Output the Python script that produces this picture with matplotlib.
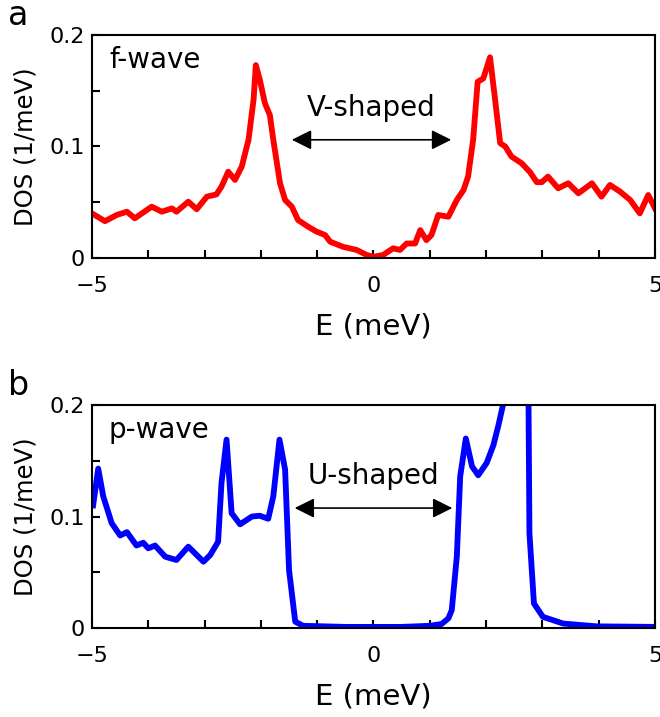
import numpy as np
import matplotlib
matplotlib.use('Agg')
import matplotlib.pyplot as plt
from matplotlib.ticker import MultipleLocator

# f-wave DOS (panel a)
e_f = [-5.0, -4.77, -4.56, -4.38, -4.24, -3.94, -3.76, -3.58, -3.50, -3.29,
       -3.14, -2.96, -2.79, -2.70, -2.58, -2.46, -2.34, -2.22, -2.13, -2.09,
       -2.02, -1.93, -1.84, -1.78, -1.66, -1.57, -1.45, -1.34, -1.16, -1.01,
       -0.86, -0.77, -0.54, -0.30, -0.12, 0.0, 0.17, 0.35, 0.47, 0.59,
       0.74, 0.83, 0.94, 1.03, 1.15, 1.33, 1.48, 1.60, 1.68, 1.77,
       1.85, 1.95, 2.07, 2.16, 2.25, 2.34, 2.45, 2.63, 2.78, 2.90,
       2.99, 3.10, 3.28, 3.46, 3.64, 3.88, 4.05, 4.20, 4.38, 4.56,
       4.73, 4.88, 5.0]
dos_f = [0.040, 0.033, 0.0386, 0.0415, 0.0356, 0.046, 0.0415, 0.0445, 0.0415, 0.0505,
         0.0437, 0.055, 0.057, 0.064, 0.0774, 0.070, 0.082, 0.106, 0.142, 0.173,
         0.160, 0.139, 0.128, 0.106, 0.067, 0.052, 0.046, 0.034, 0.028, 0.0236,
         0.0206, 0.0146, 0.010, 0.0072, 0.0027, 0.001, 0.0027, 0.0087, 0.0072, 0.013,
         0.013, 0.025, 0.016, 0.0206, 0.0386, 0.037, 0.052, 0.061, 0.073, 0.106,
         0.158, 0.161, 0.180, 0.142, 0.103, 0.100, 0.091, 0.085, 0.077, 0.068,
         0.068, 0.073, 0.0625, 0.067, 0.058, 0.067, 0.055, 0.0655, 0.0595, 0.052,
         0.040, 0.0565, 0.0445]

# p-wave DOS (panel b)
e_p = [-4.98, -4.89, -4.80, -4.65, -4.50, -4.38, -4.21, -4.09, -4.0, -3.88,
       -3.70, -3.50, -3.29, -3.02, -2.90, -2.76, -2.70, -2.61, -2.52, -2.37,
       -2.16, -2.02, -1.87, -1.78, -1.67, -1.57, -1.50, -1.39, -1.25, -0.5,
       0.0, 0.5, 1.0, 1.21, 1.33, 1.39, 1.48, 1.54, 1.64, 1.75,
       1.86, 2.01, 2.13, 2.22, 2.30, 2.45, 2.60, 2.74, 2.77, 2.85,
       3.01, 3.37, 3.96, 5.0]
dos_p = [0.110, 0.143, 0.118, 0.094, 0.083, 0.086, 0.074, 0.0765, 0.0715, 0.074,
         0.064, 0.061, 0.073, 0.0595, 0.0655, 0.0774, 0.130, 0.169, 0.103, 0.093,
         0.100, 0.1007, 0.098, 0.118, 0.169, 0.142, 0.052, 0.0057, 0.002, 0.001,
         0.001, 0.001, 0.002, 0.0036, 0.0087, 0.016, 0.064, 0.136, 0.170, 0.145,
         0.137, 0.148, 0.164, 0.182, 0.20, 0.25, 0.30, 0.30, 0.085, 0.022,
         0.010, 0.004, 0.0015, 0.001]

panels = [
    dict(letter='a', e=e_f, dos=dos_f, color='#ff0000', label='f-wave',
         shape='V-shaped', arrow=(-1.45, 1.38), arrow_y=0.106, bottom=0.6402),
    dict(letter='b', e=e_p, dos=dos_p, color='#0000ff', label='p-wave',
         shape='U-shaped', arrow=(-1.40, 1.40), arrow_y=0.1076, bottom=0.1241),
]

fig = plt.figure(figsize=(6.6, 7.17), dpi=100)

for p in panels:
    ax = fig.add_axes([0.1394, p['bottom'], 0.853, 0.311])
    ax.plot(p['e'], p['dos'], color=p['color'], lw=4.2, solid_joinstyle='round')
    ax.set_xlim(-5, 5)
    ax.set_ylim(0, 0.2)
    ax.xaxis.set_major_locator(MultipleLocator(5))
    ax.xaxis.set_minor_locator(MultipleLocator(1))
    ax.yaxis.set_major_locator(MultipleLocator(0.1))
    ax.yaxis.set_minor_locator(MultipleLocator(0.05))
    ax.yaxis.set_major_formatter(plt.FuncFormatter(lambda v, pos: '0' if v == 0 else f'{v:.1f}'))
    ax.tick_params(which='both', direction='in', length=6, width=1.5,
                   top=False, right=False, labelsize=16)
    ax.tick_params(axis='x', which='major', pad=13)
    ax.tick_params(axis='y', which='major', pad=5)
    for s in ax.spines.values():
        s.set_linewidth(1.5)
    ax.set_xlabel('E (meV)', fontsize=21, labelpad=12)
    ax.set_ylabel('DOS (1/meV)', fontsize=17.5, labelpad=9)
    ax.text(-4.7, 0.19, p['label'], fontsize=20, va='top', ha='left')
    x0, x1 = p['arrow']
    ax.annotate('', xy=(x1, p['arrow_y']), xytext=(x0, p['arrow_y']),
                arrowprops=dict(arrowstyle='<|-|>', color='black', lw=1.2,
                                mutation_scale=30, shrinkA=0, shrinkB=0))
    ax.text((x0 + x1) / 2, p['arrow_y'] + 0.016, p['shape'], fontsize=20,
            ha='center', va='bottom')
    fig.text(0.012, p['bottom'] + 0.311 + 0.05, p['letter'], fontsize=24,
             ha='left', va='top')

fig.savefig('out.png', dpi=100)
